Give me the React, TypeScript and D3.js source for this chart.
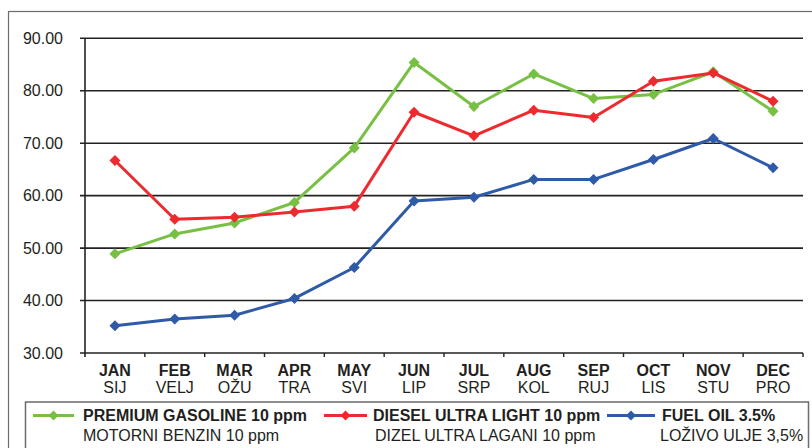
import React from "react";
import * as d3 from "d3";

const monthsEn = ["JAN", "FEB", "MAR", "APR", "MAY", "JUN", "JUL", "AUG", "SEP", "OCT", "NOV", "DEC"];
const monthsHr = ["SIJ", "VELJ", "OŽU", "TRA", "SVI", "LIP", "SRP", "KOL", "RUJ", "LIS", "STU", "PRO"];
const yTicks = [30, 40, 50, 60, 70, 80, 90];

const gasoline = [48.9, 52.7, 54.8, 58.7, 69.1, 85.4, 77.0, 83.2, 78.5, 79.3, 83.6, 76.1];
const diesel = [66.7, 55.5, 55.9, 56.9, 58.0, 75.9, 71.4, 76.3, 74.9, 81.8, 83.4, 78.0];
const fuelOil = [35.2, 36.5, 37.2, 40.4, 46.3, 59.0, 59.7, 63.1, 63.1, 66.9, 70.9, 65.3];

const seriesNames = ["PREMIUM GASOLINE 10 ppm", "DIESEL ULTRA LIGHT 10 ppm", "FUEL OIL 3.5%"];
const seriesNamesHr = ["MOTORNI BENZIN 10 ppm", "DIZEL ULTRA LAGANI 10 ppm", "LOŽIVO ULJE 3,5%"];
const seriesColors = ["#78c043", "#ee2a2e", "#2e5aa8"];

const FONT = "'Liberation Sans', Arial, Helvetica, sans-serif";

export default function App() {
  const W = 812, H = 448;
  const x = d3.scaleBand<string>().domain(monthsEn).range([85, 803]).padding(0);
  const y = d3.scaleLinear().domain([30, 90]).range([353, 38.3]);
  const seriesData = [gasoline, diesel, fuelOil];
  const line = d3
    .line<number>()
    .x((_, i) => (x(monthsEn[i]) as number) + x.bandwidth() / 2)
    .y((v) => y(v))
    .curve(d3.curveLinear);

  const diamond = (cx: number, cy: number, r: number) =>
    `M${cx},${cy - r}L${cx + r},${cy}L${cx},${cy + r}L${cx - r},${cy}Z`;

  const legendItems = [
    { lx1: 33, lx2: 74, tx: 83, tx2: 83 },
    { lx1: 324, lx2: 367, tx: 373, tx2: 375 },
    { lx1: 607, lx2: 655, tx: 662, tx2: 660 },
  ];

  return (
    <svg
      width={W}
      height={H}
      style={{ position: "fixed", left: 0, top: 0, background: "#fff" }}
      fontFamily={FONT}
    >
      <rect x={0} y={0} width={W} height={H} fill="#fff" />
      {/* outer frame */}
      <rect x={8.5} y={11.5} width={830} height={460} fill="none" stroke="#6b6b6b" strokeWidth={1.2} />

      {/* gridlines */}
      {yTicks.map((t) => (
        <g key={t}>
          <line x1={80} x2={803} y1={y(t)} y2={y(t)} stroke="#222" strokeWidth={1.6} />
          <text x={63} y={y(t) + 5.5} textAnchor="end" fontSize={16} fill="#231f20">
            {t.toFixed(2)}
          </text>
        </g>
      ))}
      {/* y axis */}
      <line x1={85} x2={85} y1={38.3} y2={357} stroke="#222" strokeWidth={1.6} />
      {/* x ticks */}
      {monthsEn.map((m) => (
        <line
          key={m}
          x1={(x(m) as number) + x.bandwidth()}
          x2={(x(m) as number) + x.bandwidth()}
          y1={353}
          y2={357}
          stroke="#222"
          strokeWidth={1.4}
        />
      ))}
      {/* x labels */}
      {monthsEn.map((m, i) => {
        const cx = (x(m) as number) + x.bandwidth() / 2;
        return (
          <g key={m}>
            <text x={cx} y={376} textAnchor="middle" fontSize={16} fontWeight="bold" fill="#231f20">
              {m}
            </text>
            <text x={cx} y={393} textAnchor="middle" fontSize={16} fill="#231f20">
              {monthsHr[i]}
            </text>
          </g>
        );
      })}

      {/* series */}
      {seriesData.map((s, si) => (
        <g key={si}>
          <path d={line(s) || ""} fill="none" stroke={seriesColors[si]} strokeWidth={3} strokeLinejoin="round" />
          {s.map((v, i) => (
            <path
              key={i}
              d={diamond((x(monthsEn[i]) as number) + x.bandwidth() / 2, y(v), 5.5)}
              fill={seriesColors[si]}
            />
          ))}
        </g>
      ))}

      {/* legend */}
      <rect x={25.5} y={402} width={783} height={60} fill="#fff" stroke="#6b6b6b" strokeWidth={1.5} />
      {legendItems.map((l, i) => (
        <g key={i}>
          <line x1={l.lx1} x2={l.lx2} y1={415.5} y2={415.5} stroke={seriesColors[i]} strokeWidth={3} />
          <path d={diamond((l.lx1 + l.lx2) / 2, 415.5, 5)} fill={seriesColors[i]} />
          <text x={l.tx} y={421} fontSize={16} fontWeight="bold" fill="#231f20">
            {seriesNames[i]}
          </text>
          <text x={l.tx2} y={441} fontSize={16} fill="#231f20">
            {seriesNamesHr[i]}
          </text>
        </g>
      ))}
    </svg>
  );
}
